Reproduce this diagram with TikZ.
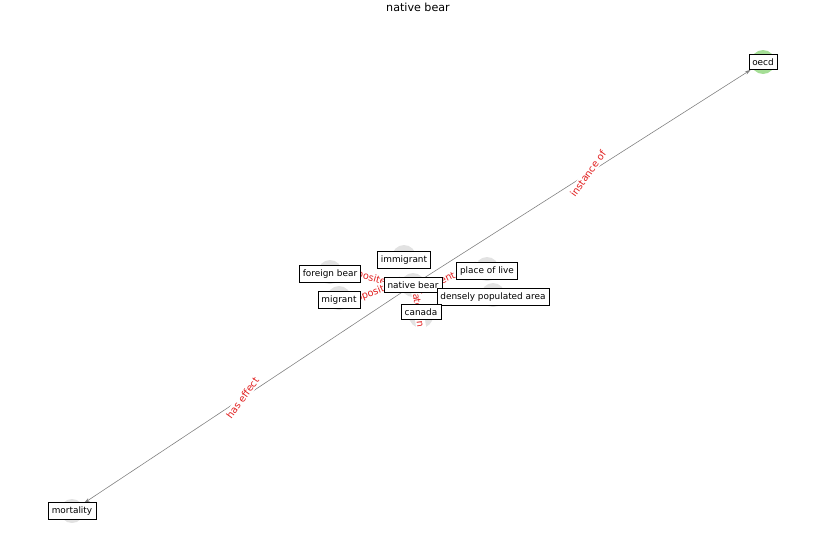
\documentclass[tikz,border=0pt]{standalone}
\usepackage{fontspec}
\setmainfont{DejaVu Sans}
\usetikzlibrary{arrows.meta}
\definecolor{nodegray}{RGB}{226,226,226}
\definecolor{nodegreen}{RGB}{165,222,150}
\definecolor{relred}{RGB}{225,30,30}
\tikzset{
  vertex/.style={circle, fill=nodegray, minimum size=0.72cm, inner sep=0pt},
  lbl/.style={draw, fill=white, font=\fontsize{7.6}{9}\selectfont, inner xsep=3pt, inner ysep=3.6pt},
  rel/.style={draw=gray, line width=0.5pt},
  relarr/.style={rel, -{Stealth[length=5pt, width=3pt]}, shorten >=2pt},
  rellbl/.style={text=relred, fill=white, font=\fontsize{8.3}{10}\selectfont, inner sep=1pt}
}
\begin{document}
\begin{tikzpicture}[x=0.03cm, y=-0.03cm]
\useasboundingbox (0,0) rectangle (837,559);
% заголовок
                \node (title) at (418,7) {\fontsize{9.5}{11}\selectfont native bear};

% вершины
                \node [vertex] (nb) at (413,285) {};
                \node [vertex, fill=nodegreen] (oecd) at (763,62) {};
                \node [vertex] (mort) at (72,511) {};
                \node [vertex] (imm) at (404,257) {};
                \node [vertex] (fb) at (330,272) {};
                \node [vertex] (mig) at (339,298) {};
                \node [vertex] (pol) at (487,269) {};
                \node [vertex] (dpa) at (493,295) {};
                \node [vertex] (can) at (421,316) {};

% рёбра
                \draw [relarr] (nb) -- (oecd)
                    node [rellbl, pos=0.5, rotate=54] {instance of};
                \draw [relarr] (nb) -- (mort)
                    node [rellbl, pos=0.5, rotate=54] {has effect};
                \draw [rel] (nb) -- (fb) node [rellbl, pos=0.5, rotate=-16] {opposite of};
                \draw [rel] (nb) -- (mig) node [rellbl, pos=0.5, rotate=22] {opposite of};
                \draw [rel] (nb) -- (pol) node [rellbl, pos=0.45, rotate=26] {different from};
                \draw [rel] (nb) -- (can) node [rellbl, pos=0.9, rotate=-82] {located in};

% подписи
                \node [lbl] (oecd-l) at (763,62) {oecd};
                \node [lbl] (mort-l) at (72,511) {mortality};
                \node [lbl] (imm-l) at (404,260) {immigrant};
                \node [lbl] (fb-l) at (330,274) {foreign bear};
                \node [lbl] (pol-l) at (487,271) {place of live};
                \node [lbl] (nb-l) at (413,285) {native bear};
                \node [lbl] (mig-l) at (339,300) {migrant};
                \node [lbl] (dpa-l) at (493,297) {densely populated area};
                \node [lbl] (can-l) at (421,312) {canada};
\end{tikzpicture}
\end{document}
